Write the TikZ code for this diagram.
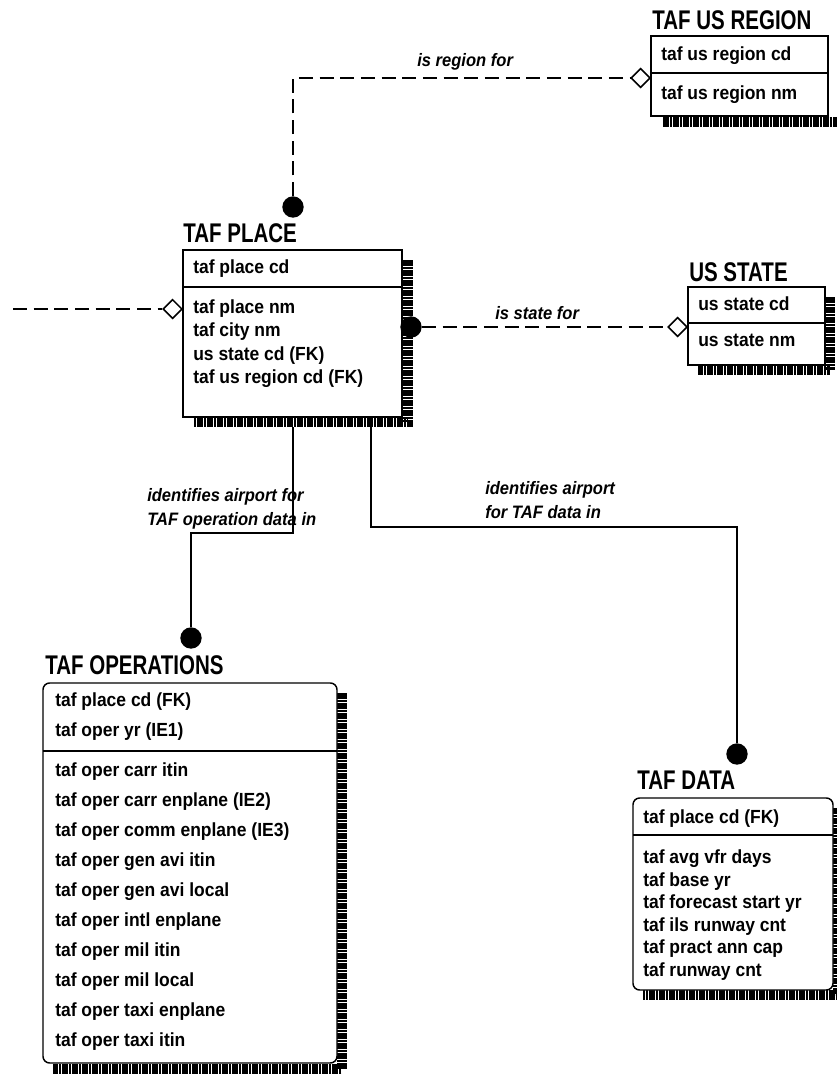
\documentclass[tikz,border=0pt]{standalone}
\usepackage{fontspec}
\newfontfamily\erfont[FakeStretch=0.92]{Liberation Sans}
\newfontfamily\titlefont[FakeStretch=0.76]{Liberation Sans}
\usetikzlibrary{shapes.geometric,fit}

\tikzset{
  entbox/.style={draw, line width=1.1pt, fill=white, inner sep=0pt},
  depbox/.style={entbox, rounded corners=5pt},
  divline/.style={line width=1.1pt},
  shadowband/.style={line width=7.5pt, dash pattern=on 2pt off 0.5pt, black},
  enttitle/.style={anchor=west, inner sep=0pt, font=\titlefont\bfseries\fontsize{20.25pt}{24pt}\selectfont},
  attr/.style={anchor=west, inner sep=0pt, text height=0.72em, text depth=0.2em, font=\erfont\bfseries\fontsize{14.25pt}{17pt}\selectfont},
  rellabel/.style={anchor=west, inner sep=0pt, align=left, font=\erfont\bfseries\itshape\fontsize{13.5pt}{18pt}\selectfont},
  rel/.style={line width=1.1pt},
  nonid/.style={rel, dash pattern=on 10.5pt off 5pt},
  keydot/.style={circle, fill=black, inner sep=0pt, minimum size=16pt},
  nulldia/.style={diamond, draw, fill=white, line width=1.1pt, inner sep=0pt, minimum size=14.5pt}
}

\begin{document}
\begin{tikzpicture}[x=0.75pt, y=-0.75pt]
        \useasboundingbox (0,0) rectangle (837,1074);

        % TAF US REGION
        \draw[shadowband] (663,121.5) -- (837,121.5);
        \node[entbox, fit={(651,36) (828,116)}] (region) {};
        \draw[divline] (651,73) -- (828,73);
        \node[enttitle] at (652,20) {TAF US REGION};
        \node[attr] at (661,57) {taf us region cd};
        \node[attr] at (661,96) {taf us region nm};

        % TAF PLACE
        \draw[shadowband] (407.5,260) -- (407.5,422) -- (193,422);
        \node[entbox, fit={(183,250) (402,417)}] (place) {};
        \draw[divline] (183,287) -- (402,287);
        \node[enttitle] at (183,233) {TAF PLACE};
        \node[attr] at (193,270) {taf place cd};
        \foreach \a [count=\i from 0] in {taf place nm, taf city nm, us state cd (FK), taf us region cd (FK)}
            \node[attr] at (193,{310+23.5*\i}) {\a};

        % US STATE
        \draw[shadowband] (830,297) -- (830,370) -- (698,370);
        \node[entbox, fit={(688,287) (825,365)}] (state) {};
        \draw[divline] (688,323) -- (825,323);
        \node[enttitle] at (689,272) {US STATE};
        \node[attr] at (698,307) {us state cd};
        \node[attr] at (698,343) {us state nm};

        % TAF OPERATIONS
        \draw[shadowband] (342,693) -- (342,1069) -- (53,1069);
        \node[depbox, fit={(43,683) (337,1063)}] (oper) {};
        \draw[divline] (43,751) -- (337,751);
        \node[enttitle] at (45,665) {TAF OPERATIONS};
        \node[attr] at (55,703) {taf place cd (FK)};
        \node[attr] at (55,733) {taf oper yr (IE1)};
        \foreach \a [count=\i from 0] in {taf oper carr itin, taf oper carr enplane (IE2), taf oper comm enplane (IE3), taf oper gen avi itin, taf oper gen avi local, taf oper intl enplane, taf oper mil itin, taf oper mil local, taf oper taxi enplane, taf oper taxi itin}
            \node[attr] at (55,{773+30*\i}) {\a};

        % TAF DATA
        \draw[shadowband] (838,808) -- (838,995) -- (643,995);
        \node[depbox, fit={(633,798) (833,990)}] (data) {};
        \draw[divline] (633,835) -- (833,835);
        \node[enttitle] at (637,780) {TAF DATA};
        \node[attr] at (643,820) {taf place cd (FK)};
        \foreach \a [count=\i from 0] in {taf avg vfr days, taf base yr, taf forecast start yr, taf ils runway cnt, taf pract ann cap, taf runway cnt}
            \node[attr] at (643,{860+22.6*\i}) {\a};

        % is region for
        \node[keydot] (rgdot) at (293,207) {};
        \node[nulldia, anchor=east] (rgdia) at (651,78) {};
        \draw[nonid] (rgdot.north) |- (rgdia.west);
        \node[rellabel] at (417,62) {is region for};

        % is state for
        \node[keydot] (stdot) at (411,327) {};
        \node[nulldia, anchor=east] (stdia) at (688,327) {};
        \draw[nonid] (stdot.east) -- (stdia.west);
        \node[rellabel] at (495,313) {is state for};

        % from the left
        \node[nulldia, anchor=east] (pldia) at (183,309) {};
        \coordinate (plfree) at (13,309);
        \draw[nonid] (plfree) -- (pldia.west);

        % identifies airport for TAF operation data in
        \node[keydot] (opdot) at (191,638) {};
        \coordinate (opout) at (293,427);
        \draw[rel] (opout) -- ++(0,106) -| (opdot.north);
        \node[rellabel] at (147,508.5) {identifies airport for\\TAF operation data in};

        % identifies airport for TAF data in
        \node[keydot] (dtdot) at (737,754) {};
        \coordinate (dtout) at (371,427);
        \draw[rel] (dtout) -- ++(0,100) -| (dtdot.north);
        \node[rellabel] at (485,500.5) {identifies airport\\for TAF data in};

    \end{tikzpicture}
\end{document}
